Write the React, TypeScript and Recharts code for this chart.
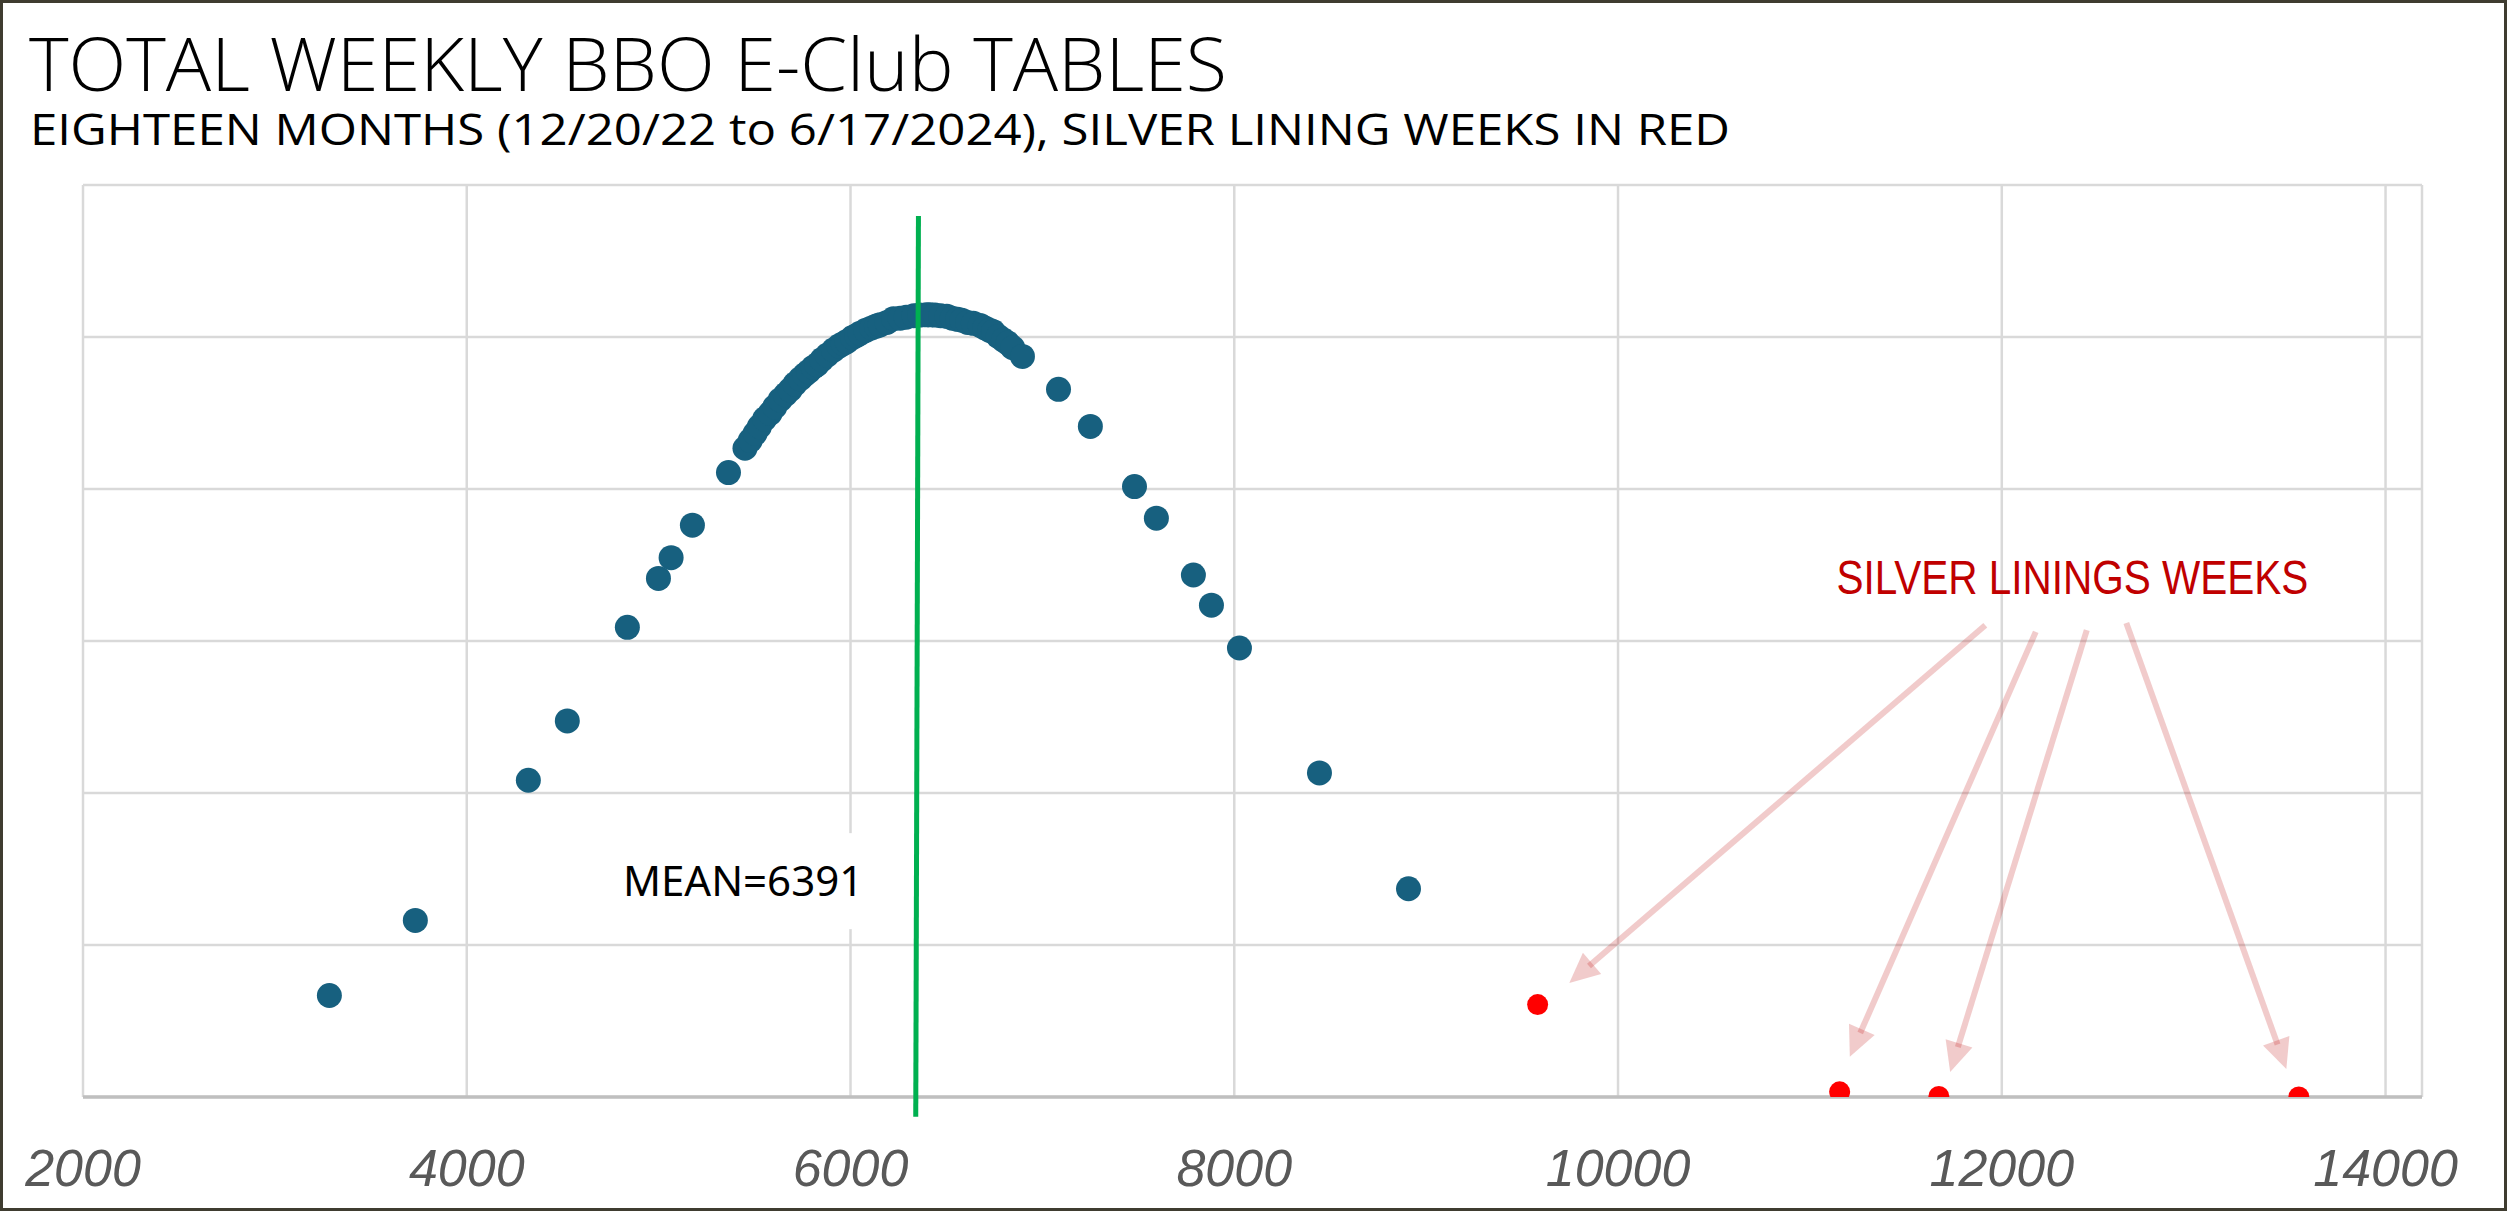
import React from "react";
import {
  ScatterChart,
  Scatter,
  XAxis,
  YAxis,
  CartesianGrid,
  ReferenceLine,
  ReferenceDot,
} from "recharts";

// Weekly table totals (x) and their normal-density height (y, in units of 1e-5)
const blueX = [
  3284, 3732, 4321, 4524, 4837, 4999, 5065, 5176, 5364, 5450, 5478, 5503, 5525,
  5552, 5581, 5605, 5633, 5660, 5685, 5710, 5738, 5760, 5781, 5805, 5824, 5850,
  5878, 5911, 5940, 5962, 5981, 6010, 6032, 6050, 6080, 6110, 6135, 6154, 6190,
  6224, 6259, 6290, 6330, 6360, 6395, 6415, 6440, 6470, 6502, 6530, 6558, 6580,
  6610, 6640, 6676, 6700, 6725, 6745, 6770, 6797, 6820, 6845, 6896, 7084, 7250,
  7480, 7594, 7787, 7881, 8027, 8444, 8908,
];
const blueY = [
  3.34, 5.81, 10.42, 12.37, 15.45, 17.06, 17.74, 18.81, 20.54, 21.34, 21.6,
  21.83, 22.05, 22.3, 22.49, 22.7, 22.93, 23.1, 23.26, 23.45, 23.62, 23.75,
  23.86, 24.0, 24.08, 24.25, 24.4, 24.57, 24.7, 24.78, 24.85, 24.98, 25.05,
  25.12, 25.22, 25.3, 25.36, 25.4, 25.48, 25.6, 25.62, 25.65, 25.7, 25.72,
  25.73, 25.73, 25.72, 25.7, 25.68, 25.62, 25.58, 25.55, 25.48, 25.45, 25.38,
  25.3, 25.22, 25.17, 25.02, 24.9, 24.8, 24.65, 24.36, 23.28, 22.06, 20.08,
  19.04, 17.17, 16.18, 14.77, 10.66, 6.85,
];
// Silver Lining weeks
const redX = [9581, 11155, 11672, 13548];
const redY = [3.04, 0.17, 0.02, 0.0];

const xTicks = [2000, 4000, 6000, 8000, 10000, 12000, 14000];
const yTicks = [0, 5, 10, 15, 20, 25, 30];

// Annotations (data coordinates)
const meanValue = 6391;
const meanLine = [
  { x: 6354, y: 28.98 },
  { x: 6340, y: -0.65 },
];
const meanLabelPos = { x: 5440, y: 7.1 };
const silverLabelPos = { x: 12368, y: 16.55 };
const arrowStarts = [
  { x: 11914, y: 15.52 },
  { x: 12177, y: 15.3 },
  { x: 12443, y: 15.36 },
  { x: 12649, y: 15.59 },
];
const arrowEnds = [
  { x: 9746, y: 3.75 },
  { x: 11208, y: 1.32 },
  { x: 11731, y: 0.82 },
  { x: 13483, y: 0.92 },
];

const blueData = blueX.map((x, i) => ({ x, y: blueY[i] }));
const redData = redX.map((x, i) => ({ x, y: redY[i] }));

const W = 2507;
const H = 1211;

const BlueDot = (p: any) => (
  <circle cx={p.cx} cy={p.cy} r={12.5} fill="#17607F" />
);
const RedDot = (p: any) => (
  <circle cx={p.cx} cy={p.cy} r={10.5} fill="#FF0000" />
);

const ArrowShape = (p: any) => {
  const { x1, y1, x2, y2 } = p;
  const dx = x2 - x1;
  const dy = y2 - y1;
  const len = Math.sqrt(dx * dx + dy * dy);
  const ux = dx / len;
  const uy = dy / len;
  const headL = 30;
  const headW = 14;
  const bx = x2 - ux * headL;
  const by = y2 - uy * headL;
  const color = "rgba(192,20,20,0.22)";
  return (
    <g>
      <line
        x1={x1}
        y1={y1}
        x2={x2 - ux * (headL - 4)}
        y2={y2 - uy * (headL - 4)}
        stroke={color}
        strokeWidth={6}
      />
      <polygon
        points={`${x2},${y2} ${bx - uy * headW},${by + ux * headW} ${bx + uy * headW},${by - ux * headW}`}
        fill={color}
      />
    </g>
  );
};

const GreenLine = (p: any) => (
  <line x1={p.x1} y1={p.y1} x2={p.x2} y2={p.y2} stroke="#00B050" strokeWidth={5} />
);

const MeanLabel = (p: any) => (
  <g>
    <rect x={p.cx - 130} y={p.cy - 48} width={260} height={96} fill="#FFFFFF" />
    <text
      x={p.cx}
      y={p.cy + 15}
      textAnchor="middle"
      fontFamily="'Noto Sans', sans-serif"
      fontSize={42}
      fill="#000000"
    >
      {`MEAN=${meanValue}`}
    </text>
  </g>
);

const SilverLabel = (p: any) => (
  <text
    x={p.cx}
    y={p.cy}
    textAnchor="middle"
    fontFamily="'Liberation Sans', sans-serif"
    fontSize={49}
    textLength={472}
    lengthAdjust="spacingAndGlyphs"
    fill="#C00000"
  >
    SILVER LININGS WEEKS
  </text>
);

export default function App() {
  return (
    <div
      style={{
        position: "absolute",
        left: 0,
        top: 0,
        width: W,
        height: H,
        background: "#FFFFFF",
        overflow: "hidden",
      }}
    >
      <svg
        width={W}
        height={180}
        style={{ position: "absolute", left: 0, top: 0 }}
      >
        <text
          x={29}
          y={91}
          fontFamily="'Open Sans', sans-serif"
          fontWeight={300}
          fontSize={74}
          textLength={1198}
          lengthAdjust="spacingAndGlyphs"
          fill="#000000"
        >
          TOTAL WEEKLY BBO E-Club TABLES
        </text>
        <text
          x={30}
          y={145}
          fontFamily="'Open Sans', sans-serif"
          fontWeight={400}
          fontSize={44}
          textLength={1700}
          lengthAdjust="spacingAndGlyphs"
          fill="#000000"
        >
          EIGHTEEN MONTHS (12/20/22 to 6/17/2024), SILVER LINING WEEKS IN RED
        </text>
      </svg>
      <div style={{ position: "absolute", left: 0, top: 0 }}>
        <ScatterChart
          width={W}
          height={H}
          margin={{ top: 185, right: 85, bottom: 54, left: 83 }}
        >
          <CartesianGrid stroke="#D9D9D9" strokeWidth={2.5} />
          <XAxis
            dataKey="x"
            type="number"
            domain={[2000, 14190]}
            ticks={xTicks}
            interval={0}
            allowDataOverflow
            height={60}
            tickLine={false}
            tickSize={0}
            tickMargin={52}
            axisLine={{ stroke: "#BFBFBF", strokeWidth: 3.5 }}
            tick={{
              fill: "#595959",
              fontSize: 52,
              fontStyle: "italic",
              fontFamily: "'Liberation Sans', sans-serif",
            }}
          />
          <YAxis
            dataKey="y"
            type="number"
            domain={[0, 30]}
            ticks={yTicks}
            hide
            allowDataOverflow
          />
          <Scatter
            data={blueData}
            shape={BlueDot}
            isAnimationActive={false}
          />
          <Scatter data={redData} shape={RedDot} isAnimationActive={false} />
          {arrowStarts.map((s, i) => (
            <ReferenceLine
              key={i}
              segment={[s, arrowEnds[i]]}
              ifOverflow="visible"
              shape={ArrowShape}
            />
          ))}
          <ReferenceDot
            x={meanLabelPos.x}
            y={meanLabelPos.y}
            ifOverflow="visible"
            shape={MeanLabel}
          />
          <ReferenceDot
            x={silverLabelPos.x}
            y={silverLabelPos.y}
            ifOverflow="visible"
            shape={SilverLabel}
          />
          <ReferenceLine
            segment={meanLine}
            ifOverflow="visible"
            shape={GreenLine}
            zIndex={900}
          />
        </ScatterChart>
      </div>
      <div
        style={{
          position: "absolute",
          left: 0,
          top: 0,
          width: W,
          height: H,
          boxSizing: "border-box",
          border: "3px solid #3F3C30",
          pointerEvents: "none",
        }}
      />
    </div>
  );
}
